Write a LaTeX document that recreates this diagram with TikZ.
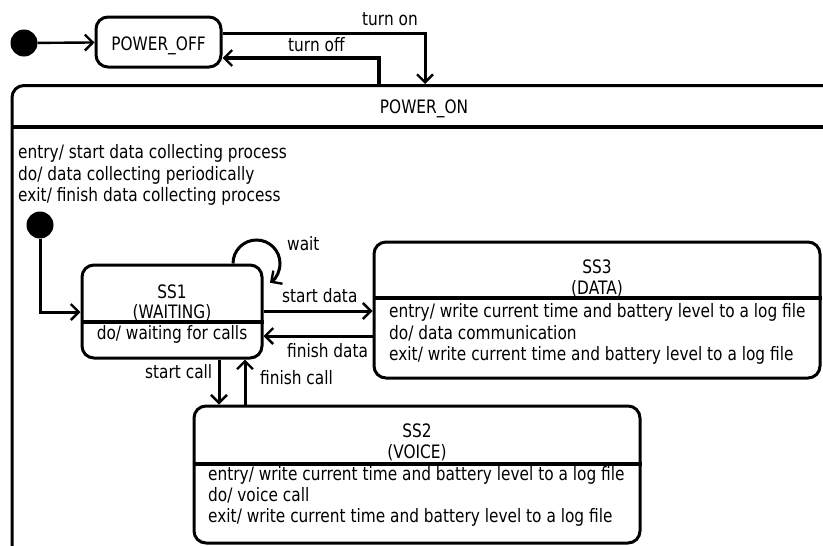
\documentclass[tikz,border=0pt]{standalone}
\usepackage{fontspec}
\setmainfont[FakeStretch=0.83]{DejaVu Sans}
\usetikzlibrary{arrows.meta}
\begin{document}
\begin{tikzpicture}[x=1pt,y=-1pt,
  every node/.style={font=\fontsize{18.5}{21}\selectfont, inner sep=0pt},
  box/.style={draw, line width=3pt, rounded corners=12pt},
  divider/.style={line width=3.6pt},
  arr/.style={line width=3pt, -{Straight Barb[length=8pt,width=16pt,line width=2.4pt]}},
  dot/.style={circle, fill=black, minimum size=27pt},
  lt/.style={anchor=base west},
  ct/.style={anchor=base}]
\useasboundingbox (0,0) rectangle (823,546);
\clip (0,0) rectangle (823,546);

% top level
\node[dot] (i0) at (24,43) {};
\node[box, minimum width=125pt, minimum height=50pt] (off) at (158.5,42) {};
\node[ct] (offt) at (158.5,50) {POWER\_OFF};
\node[box, minimum width=824pt, minimum height=540pt, anchor=north] (on) at (424,84) {};
\node[ct] (ont) at (424,113) {POWER\_ON};
\draw[divider] (on.west |- 0,127) -- (on.east |- 0,127);

\draw[arr, line width=2.4pt] (i0) -- (off);
\draw[arr] (off.east |- 0,33) -| (425,0 |- on.north);
\node[lt] (lon) at (362,25) {turn on};
\draw[arr, line width=3.6pt] (379,0 |- on.north) |- (off.east |- 0,58);
\node[lt] (loff) at (288,52) {turn off};

\node[lt] (on1) at (18,158) {entry/ start data collecting process};
\node[lt] (on2) at (18,180) {do/ data collecting periodically};
\node[lt] (on3) at (18,201.5) {exit/ finish data collecting process};

% SS1
\node[dot] (i1) at (40,225) {};
\node[box, minimum width=180pt, minimum height=93pt] (ss1) at (172,311.5) {};
\node[ct] (ss1a) at (172,298) {SS1};
\node[ct] (ss1b) at (172,318.5) {(WAITING)};
\draw[divider] (ss1.west |- 0,322) -- (ss1.east |- 0,322);
\node[ct] (ss1c) at (172,339) {do/ waiting for calls};
\draw[arr] (i1) |- (ss1.west |- 0,312);

% SS3
\node[box, minimum width=446pt, minimum height=136pt] (ss3) at (597,310) {};
\node[ct] (ss3a) at (597,273) {SS3};
\node[ct] (ss3b) at (597,294) {(DATA)};
\draw[divider] (ss3.west |- 0,298) -- (ss3.east |- 0,298);
\node[lt] (ss3c) at (389,317) {entry/ write current time and battery level to a log file};
\node[lt] (ss3d) at (389,339) {do/ data communication};
\node[lt] (ss3e) at (389,360.5) {exit/ write current time and battery level to a log file};

% SS2
\node[box, minimum width=446pt, minimum height=137pt] (ss2) at (417,474.5) {};
\node[ct] (ss2a) at (417,437) {SS2};
\node[ct] (ss2b) at (417,458) {(VOICE)};
\draw[divider] (ss2.west |- 0,464) -- (ss2.east |- 0,464);
\node[lt] (ss2c) at (208,480) {entry/ write current time and battery level to a log file};
\node[lt] (ss2d) at (208,501) {do/ voice call};
\node[lt] (ss2e) at (208,522.5) {exit/ write current time and battery level to a log file};

% transitions
\draw[arr] (ss1.east |- 0,311) -- (ss3.west |- 0,311);
\node[lt] (lsd) at (282,302) {start data};
\draw[arr] (ss3.west |- 0,336) -- (ss1.east |- 0,336);
\node[lt] (lfd) at (287,357) {finish data};
\draw[arr] (219,0 |- ss1.south) -- (219,0 |- ss2.north);
\node[lt] (lsc) at (145,378) {start call};
\draw[arr] (245,0 |- ss2.north) -- (245,0 |- ss1.south);
\node[lt] (lfc) at (260,384) {finish call};
\draw[arr] (233,0 |- ss1.north) arc[start angle=180, end angle=415, radius=23.5];
\node[lt] (lw) at (287,250) {wait};
\end{tikzpicture}
\end{document}
